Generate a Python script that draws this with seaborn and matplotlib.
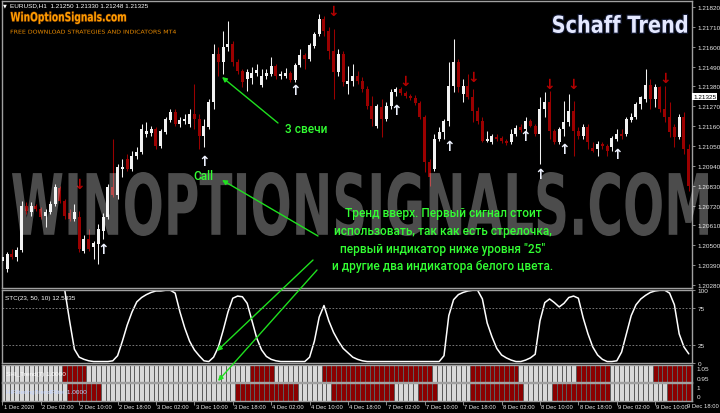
import numpy as np
import pandas as pd
import matplotlib
matplotlib.use("Agg")
import matplotlib.pyplot as plt
import matplotlib.patheffects as pe
import seaborn as sns
from matplotlib import font_manager
from matplotlib.colors import ListedColormap
from matplotlib.font_manager import FontProperties
from matplotlib.patches import PathPatch
from matplotlib.textpath import TextPath
from matplotlib.transforms import Affine2D

# EURUSD H1, bars from 1 Dec 18:00 to 9 Dec 17:00
opens = [1.20413, 1.20368, 1.20451, 1.20435, 1.20474, 1.20717, 1.20684, 1.20717, 1.20701, 1.20662,
         1.20684, 1.20728, 1.20817, 1.20745, 1.20678, 1.20645, 1.20656, 1.20468, 1.20534, 1.20490,
         1.20507, 1.20579, 1.20656, 1.20823, 1.20778, 1.20922, 1.20978, 1.20922, 1.20994, 1.21016,
         1.21116, 1.21122, 1.21144, 1.21050, 1.21127, 1.21194, 1.21238, 1.21172, 1.21188, 1.21172,
         1.21227, 1.21199, 1.21105, 1.21155, 1.21293, 1.21559, 1.21515, 1.21598, 1.21615, 1.21515,
         1.21465, 1.21421, 1.21426, 1.21454, 1.21388, 1.21437, 1.21449, 1.21493, 1.21437, 1.21437,
         1.21454, 1.21415, 1.21498, 1.21554, 1.21532, 1.21604, 1.21670, 1.21753, 1.21687, 1.21576,
         1.21460, 1.21559, 1.21393, 1.21410, 1.21437, 1.21410, 1.21365, 1.21271, 1.21160, 1.21266,
         1.21199, 1.21271, 1.21349, 1.21365, 1.21343, 1.21327, 1.21316, 1.21288, 1.21210, 1.20961,
         1.20922, 1.21088, 1.21127, 1.21188, 1.21382, 1.21515, 1.21338, 1.21382, 1.21321, 1.21244,
         1.21188, 1.21077, 1.21072, 1.21100, 1.21094, 1.21077, 1.21072, 1.21116, 1.21155, 1.21144,
         1.21188, 1.21160, 1.21116, 1.21255, 1.21293, 1.21133, 1.21072, 1.21144, 1.21183, 1.21244,
         1.21133, 1.21105, 1.21155, 1.21039, 1.21033, 1.21061, 1.21050, 1.21044, 1.21088, 1.21116,
         1.21116, 1.21194, 1.21210, 1.21282, 1.21310, 1.21388, 1.21310, 1.21377, 1.21255, 1.21210,
         1.21155, 1.21100, 1.21210, 1.21033]
highs = [1.20534, 1.20462, 1.20479, 1.20490, 1.20745, 1.20739, 1.20739, 1.20728, 1.20712, 1.20701,
         1.20745, 1.20839, 1.20828, 1.20756, 1.20701, 1.20728, 1.20690, 1.20557, 1.20590, 1.20523,
         1.20618, 1.20678, 1.20839, 1.21088, 1.20950, 1.20978, 1.21005, 1.21022, 1.21044, 1.21172,
         1.21183, 1.21160, 1.21155, 1.21144, 1.21210, 1.21255, 1.21255, 1.21210, 1.21227, 1.21255,
         1.21393, 1.21227, 1.21199, 1.21310, 1.21615, 1.21598, 1.21687, 1.21742, 1.21631, 1.21532,
         1.21476, 1.21476, 1.21487, 1.21504, 1.21476, 1.21476, 1.21543, 1.21504, 1.21465, 1.21482,
         1.21465, 1.21509, 1.21587, 1.21565, 1.21620, 1.21681, 1.21781, 1.21770, 1.21709, 1.21698,
         1.21587, 1.21576, 1.21493, 1.21504, 1.21465, 1.21432, 1.21382, 1.21327, 1.21282, 1.21310,
         1.21293, 1.21365, 1.21377, 1.21377, 1.21354, 1.21338, 1.21332, 1.21299, 1.21221, 1.20978,
         1.21116, 1.21155, 1.21199, 1.21515, 1.21642, 1.21532, 1.21421, 1.21449, 1.21365, 1.21266,
         1.21210, 1.21133, 1.21116, 1.21116, 1.21105, 1.21088, 1.21144, 1.21166, 1.21172, 1.21210,
         1.21199, 1.21172, 1.21321, 1.21349, 1.21354, 1.21144, 1.21155, 1.21299, 1.21338, 1.21299,
         1.21155, 1.21172, 1.21172, 1.21072, 1.21077, 1.21072, 1.21061, 1.21105, 1.21144, 1.21144,
         1.21210, 1.21232, 1.21293, 1.21327, 1.21476, 1.21421, 1.21393, 1.21382, 1.21382, 1.21293,
         1.21172, 1.21227, 1.21238, 1.21061]
lows = [1.20368, 1.20352, 1.20424, 1.20413, 1.20462, 1.20673, 1.20662, 1.20690, 1.20645, 1.20601,
        1.20673, 1.20717, 1.20734, 1.20645, 1.20634, 1.20634, 1.20462, 1.20457, 1.20468, 1.20424,
        1.20396, 1.20534, 1.20645, 1.20767, 1.20756, 1.20878, 1.20911, 1.20911, 1.20978, 1.21005,
        1.21100, 1.21105, 1.21033, 1.21039, 1.21116, 1.21183, 1.21160, 1.21155, 1.21172, 1.21155,
        1.21144, 1.21033, 1.21044, 1.21144, 1.21255, 1.21437, 1.21449, 1.21576, 1.21493, 1.21449,
        1.21377, 1.21354, 1.21393, 1.21437, 1.21377, 1.21421, 1.21437, 1.21421, 1.21421, 1.21426,
        1.21404, 1.21404, 1.21487, 1.21476, 1.21520, 1.21593, 1.21659, 1.21659, 1.21532, 1.21310,
        1.21437, 1.21382, 1.21338, 1.21382, 1.21393, 1.21349, 1.21255, 1.21160, 1.21149, 1.21100,
        1.21188, 1.21255, 1.21327, 1.21332, 1.21316, 1.21305, 1.21277, 1.21199, 1.20906, 1.20828,
        1.20911, 1.21077, 1.21088, 1.21160, 1.21349, 1.21349, 1.21293, 1.21310, 1.21183, 1.21172,
        1.21072, 1.21072, 1.21061, 1.21077, 1.21066, 1.21055, 1.21061, 1.21105, 1.21127, 1.21133,
        1.21155, 1.21105, 1.20950, 1.21210, 1.21088, 1.21061, 1.21061, 1.21105, 1.21160, 1.20994,
        1.21088, 1.21088, 1.21033, 1.21016, 1.20994, 1.21033, 1.20994, 1.21022, 1.21077, 1.21088,
        1.21105, 1.21183, 1.21199, 1.21255, 1.21293, 1.21255, 1.21266, 1.21238, 1.21183, 1.21100,
        1.21044, 1.21088, 1.21005, 1.20800]
closes = [1.20435, 1.20451, 1.20435, 1.20474, 1.20717, 1.20690, 1.20717, 1.20701, 1.20656, 1.20684,
          1.20728, 1.20823, 1.20745, 1.20662, 1.20645, 1.20684, 1.20479, 1.20534, 1.20479, 1.20512,
          1.20590, 1.20656, 1.20823, 1.20778, 1.20933, 1.20933, 1.20922, 1.20994, 1.21016, 1.21144,
          1.21133, 1.21144, 1.21050, 1.21133, 1.21199, 1.21238, 1.21172, 1.21194, 1.21199, 1.21227,
          1.21199, 1.21105, 1.21160, 1.21293, 1.21559, 1.21515, 1.21598, 1.21615, 1.21515, 1.21465,
          1.21404, 1.21460, 1.21454, 1.21471, 1.21437, 1.21454, 1.21493, 1.21437, 1.21449, 1.21454,
          1.21415, 1.21498, 1.21554, 1.21532, 1.21609, 1.21670, 1.21753, 1.21687, 1.21576, 1.21460,
          1.21559, 1.21404, 1.21410, 1.21437, 1.21410, 1.21365, 1.21271, 1.21199, 1.21271, 1.21199,
          1.21271, 1.21349, 1.21365, 1.21343, 1.21327, 1.21316, 1.21288, 1.21210, 1.20961, 1.20878,
          1.21088, 1.21127, 1.21188, 1.21382, 1.21515, 1.21377, 1.21382, 1.21321, 1.21244, 1.21188,
          1.21077, 1.21088, 1.21105, 1.21088, 1.21077, 1.21066, 1.21116, 1.21149, 1.21138, 1.21188,
          1.21160, 1.21116, 1.21255, 1.21293, 1.21133, 1.21072, 1.21144, 1.21183, 1.21244, 1.21133,
          1.21105, 1.21155, 1.21072, 1.21022, 1.21061, 1.21050, 1.21022, 1.21094, 1.21116, 1.21105,
          1.21199, 1.21210, 1.21282, 1.21321, 1.21388, 1.21310, 1.21377, 1.21255, 1.21210, 1.21127,
          1.21100, 1.21210, 1.21033, 1.20828]

# Schaff Trend Cycle values
stc = [100, 100, 100, 100, 100, 100, 100, 100, 100, 100, 100, 100, 100, 100, 58, 19, 8, 5, 3, 2,
       2, 2, 2, 3, 10, 30, 52, 70, 84, 90, 94, 97, 99, 99, 100, 100, 96, 70, 48, 30,
       18, 10, 3, 2, 8, 22, 45, 70, 89, 92, 91, 82, 58, 34, 18, 9, 5, 3, 2, 2,
       2, 2, 2, 2, 8, 30, 63, 79, 58, 42, 30, 20, 14, 8, 5, 3, 2, 2, 2, 2,
       2, 2, 2, 2, 2, 2, 2, 2, 2, 2, 2, 2, 10, 65, 87, 94, 97, 99, 100, 100,
       88, 55, 36, 20, 11, 7, 4, 2, 2, 4, 7, 12, 58, 83, 88, 83, 77, 82, 90, 92,
       89, 62, 40, 22, 11, 5, 2, 2, 3, 15, 40, 65, 80, 88, 93, 97, 99, 100, 100, 96,
       80, 40, 22, 12.5835]
stc_params = [23, 50, 10]
stc_levels = [0, 25, 75, 100]

# two colour indicators: 1 = dark red bar, 0 = light bar
ind1 = [int(ch) for ch in (
    "0000000000" "0001111100" "0000000000" "0000000000" "0000000000"
    "0011111000" "0000000111" "1111111111" "1111111111" "0000000011"
    "1111111100" "0000000000" "1111111000" "0000001111" "1111")]
ind2 = [int(ch) for ch in (
    "0000000000" "0000111111" "1000000000" "0000000000" "0000000001"
    "1111111111" "1100000001" "1111111111" "1100000111" "1000000011"
    "1111111110" "0000011111" "1111111000" "0000000001" "1111")]

# signal arrows (bar index, price)
up_bars = [21, 42, 61, 82, 93, 109, 112, 117, 128]
up_prices = [1.20479, 1.20967, 1.21360, 1.21249, 1.21050, 1.21105, 1.20895, 1.21033, 1.21005]
down_bars = [16, 69, 84, 98, 114, 119, 138]
down_prices = [1.20839, 1.21798, 1.21410, 1.21432, 1.21393, 1.21393, 1.21427]

price_ticks = [1.20280, 1.20390, 1.20500, 1.20610, 1.20720, 1.20830, 1.20940, 1.21050,
               1.21160, 1.21270, 1.21380, 1.21490, 1.21600, 1.21710, 1.21820]
header_ohlc = [1.21250, 1.21330, 1.21248, 1.21325]
time_bars = [0, 8, 16, 24, 32, 40, 48, 56, 64, 72, 80, 88, 96, 104, 112, 120, 128, 136, 144]
time_labels = ["1 Dec 2020", "2 Dec 02:00", "2 Dec 10:00", "2 Dec 18:00", "3 Dec 02:00",
               "3 Dec 10:00", "3 Dec 18:00", "4 Dec 02:00", "4 Dec 10:00", "4 Dec 18:00",
               "7 Dec 02:00", "7 Dec 10:00", "7 Dec 18:00", "8 Dec 02:00", "8 Dec 10:00",
               "8 Dec 18:00", "9 Dec 02:00", "9 Dec 10:00", "9 Dec 18:00"]

note_lines = ["Тренд вверх. Первый сигнал стоит",
              "использовать, так как есть стрелочка,",
              "первый индикатор ниже уровня \"25\"",
              "и другие два индикатора белого цвета."]

sns.set_theme(style="dark", rc={"axes.facecolor": "black", "figure.facecolor": "black",
                                "savefig.facecolor": "black"})
installed = {f.name for f in font_manager.fontManager.ttflist}
SMALL = next(f for f in ["Liberation Sans Narrow", "Liberation Sans", "DejaVu Sans"] if f in installed)
NOTE_FONT = "Roboto" if "Roboto" in installed else "DejaVu Sans"
plt.rcParams["font.family"] = [SMALL, "DejaVu Sans"]

BULL = "#f2f2f2"
BEAR = "#9b0000"
FRAME = "#a0a0a0"
GREEN = "#33ff33"
GREEN_LINE = "#1fe01f"
FS = 4.6
FS_T = 4.2

W, H = 720, 414
fig = plt.figure(figsize=(W / 100, H / 100), dpi=100)


def px_rect(x0, y0, x1, y1):
    return [x0 / W, 1 - y1 / H, (x1 - x0) / W, (y1 - y0) / H]


def frame(a):
    for s in a.spines.values():
        s.set_visible(True)
        s.set_color(FRAME)
        s.set_linewidth(1.0)


ax = fig.add_axes(px_rect(2, 2, 692, 289))
ax_stc = fig.add_axes(px_rect(2, 290.5, 692, 364))
ax_i1 = fig.add_axes(px_rect(2, 366, 692, 382.5))
ax_i2 = fig.add_axes(px_rect(2, 384, 692, 402))
X0, X1 = -0.08, 143.67

# candles
df = pd.DataFrame({"open": opens, "high": highs, "low": lows, "close": closes})
df["bar"] = np.arange(len(df))
bull = df["close"] >= df["open"]
for mask, col in ((bull, BULL), (~bull, BEAR)):
    d = df[mask]
    ax.vlines(d["bar"], d["low"], d["high"], color=col, lw=0.75, zorder=2)
    body = (d["close"] - d["open"]).abs().clip(lower=0.00005)
    ax.bar(d["bar"], body, bottom=d[["open", "close"]].min(axis=1), width=0.62,
           color=col, edgecolor=col, linewidth=0, zorder=3)

for b, p in zip(up_bars, up_prices):
    ax.text(b, p, "↑", color="#eef2ff", fontsize=10, fontweight="bold", family="DejaVu Sans",
            ha="center", va="center", zorder=4)
for b, p in zip(down_bars, down_prices):
    ax.text(b, p, "↓", color="#b40000", fontsize=10, fontweight="bold", family="DejaVu Sans",
            ha="center", va="center", zorder=4)

ax.set_xlim(X0, X1)
ax.set_ylim(1.20263, 1.21853)
ax.set_xticks([])
ax.set_yticks(price_ticks)
ax.set_yticklabels([f"{p:.5f}" for p in price_ticks])
ax.tick_params(axis="y", left=False, right=True, labelleft=False, labelright=True,
               labelsize=FS, labelcolor="#e8e8e8", color=FRAME, length=2.5, width=0.6, pad=1.5)
frame(ax)
last_price = header_ohlc[3]
ax.text(1.002, last_price, f"{last_price:.5f}", transform=ax.get_yaxis_transform(),
        ha="left", va="center", fontsize=FS, color="black", clip_on=False, zorder=6,
        bbox=dict(boxstyle="square,pad=0.15", fc="white", ec="none"))

# STC panel
sns.lineplot(x=df["bar"], y=stc, ax=ax_stc, color="white", lw=1.1)
for lv in (25, 75):
    ax_stc.axhline(lv, color="#8a8a8a", lw=0.6, ls=(0, (2, 2)))
ax_stc.set_xlim(X0, X1)
ax_stc.set_ylim(0, 101)
ax_stc.set(xlabel="", ylabel="")
ax_stc.set_xticks([])
ax_stc.set_yticks(stc_levels)
ax_stc.set_yticklabels([str(v) for v in stc_levels])
ax_stc.tick_params(axis="y", left=False, right=True, labelleft=False, labelright=True,
                   labelsize=FS, labelcolor="#e8e8e8", color=FRAME, length=2.5, width=0.6, pad=1.5)
ax_stc.text(0.005, 0.93, f"STC({stc_params[0]}, {stc_params[1]}, {stc_params[2]}) {stc[-1]:.4f}",
            transform=ax_stc.transAxes, fontsize=FS, color="white", va="top")
frame(ax_stc)

# colour indicators
cmap = ListedColormap(["#d9d9d9", "#8b0000"])
for a, vals in ((ax_i1, ind1), (ax_i2, ind2)):
    sns.heatmap(pd.DataFrame([vals]), ax=a, cmap=cmap, vmin=0, vmax=1, cbar=False,
                linewidths=0.6, linecolor="#5c5c5c", xticklabels=False, yticklabels=False)
    a.set_xlim(X0 + 0.5, X1 + 0.5)
    a.set(xlabel="", ylabel="")
    frame(a)
ax_i1.text(0.006, 0.5, "SHI_Trend(7) 1.0000", transform=ax_i1.transAxes, fontsize=FS,
           color="white", va="center")
ax_i2.text(0.006, 0.5, "HiFilteringTrendFilter 1.0000", transform=ax_i2.transAxes, fontsize=FS,
           color="#c4d4ff", va="center")
for a, labels in ((ax_i1, [("1.05", 0.8), ("0.95", 0.2)]), (ax_i2, [("1", 0.75), ("0", 0.25)])):
    for s, yy in labels:
        a.text(1.007, yy, s, transform=a.transAxes, fontsize=FS, color="#e8e8e8",
               va="center", ha="left", clip_on=False)

ax_i2.set_xticks([b + 0.5 for b in time_bars[:-1]])
ax_i2.set_xticklabels([])
ax_i2.tick_params(axis="x", bottom=True, length=3, width=0.6, color=FRAME, direction="out")
for b, s in zip(time_bars[:-1], time_labels[:-1]):
    ax_i2.text(b + 0.75, -0.28, s, transform=ax_i2.get_xaxis_transform(), fontsize=FS_T,
               color="#e8e8e8", ha="left", va="center", clip_on=False)

# overlay in pixel coordinates for logo, watermark and notes
ov = fig.add_axes([0, 0, 1, 1], zorder=10)
ov.set_xlim(0, W)
ov.set_ylim(H, 0)
ov.axis("off")
ov.patch.set_visible(False)

# last time label sits at the right edge of the picture
ov.text(W - 1, 407, time_labels[-1], fontsize=FS_T, color="#e8e8e8", ha="right", va="center")


def fit_text(s, x0, y0, x1, y1, color, weight="bold", alpha=1.0, outline=None, lw=1.0):
    tp = TextPath((0, 0), s, size=50, prop=FontProperties(family="DejaVu Sans", weight=weight))
    bb = tp.get_extents()
    tr = (Affine2D().translate(-bb.x0, -bb.y0)
          .scale((x1 - x0) / bb.width, -(y1 - y0) / bb.height)
          .translate(x0, y1))
    patch = PathPatch(tr.transform_path(tp), facecolor=color, edgecolor="none", alpha=alpha)
    if outline:
        patch.set_path_effects([pe.Stroke(linewidth=lw, foreground=outline), pe.Normal()])
    ov.add_patch(patch)


fit_text("WINOPTIONSIGNALS.COM", 12, 173, 708, 237, "white", alpha=0.3)
fit_text("Schaff Trend", 553, 16, 687, 34, "#e4e8ff", outline="#141a33", lw=1.6)
fit_text("WinOptionSignals.com", 10.7, 12.7, 126, 25, "#ff9c00", outline="#4a2200", lw=0.8)
fit_text("FREE DOWNLOAD STRATEGIES AND INDICATORS MT4", 10.7, 30.7, 176, 34.7, "#e88a00",
         weight="normal")

ov.text(3, 5.5, "▼", fontsize=3.6, color="white", va="center", family="DejaVu Sans")
ov.text(10, 5.5, "EURUSD,H1  " + " ".join(f"{v:.5f}" for v in header_ohlc), fontsize=FS,
        color="white", va="center")

note_kw = dict(fontsize=8.6, color=GREEN, family=NOTE_FONT, fontweight="medium",
               ha="center", va="center")
ov.text(306, 130, "3 свечи", **note_kw)
ov.text(203, 177, "Call", **note_kw)
for yy, line in zip([214, 232, 249.5, 267], note_lines):
    ov.text(443, yy, line, **note_kw)

arrow_kw = dict(arrowstyle="-|>", color=GREEN_LINE, lw=1.0, mutation_scale=7, shrinkA=0, shrinkB=0)
for start, end in (((278, 124), (222, 78)), ((318, 237), (222, 181)),
                   ((313, 261), (217, 352)), ((317, 271), (218, 382))):
    ov.annotate("", xy=end, xytext=start, arrowprops=arrow_kw)

fig.savefig("out.png", dpi=100, facecolor="black")
